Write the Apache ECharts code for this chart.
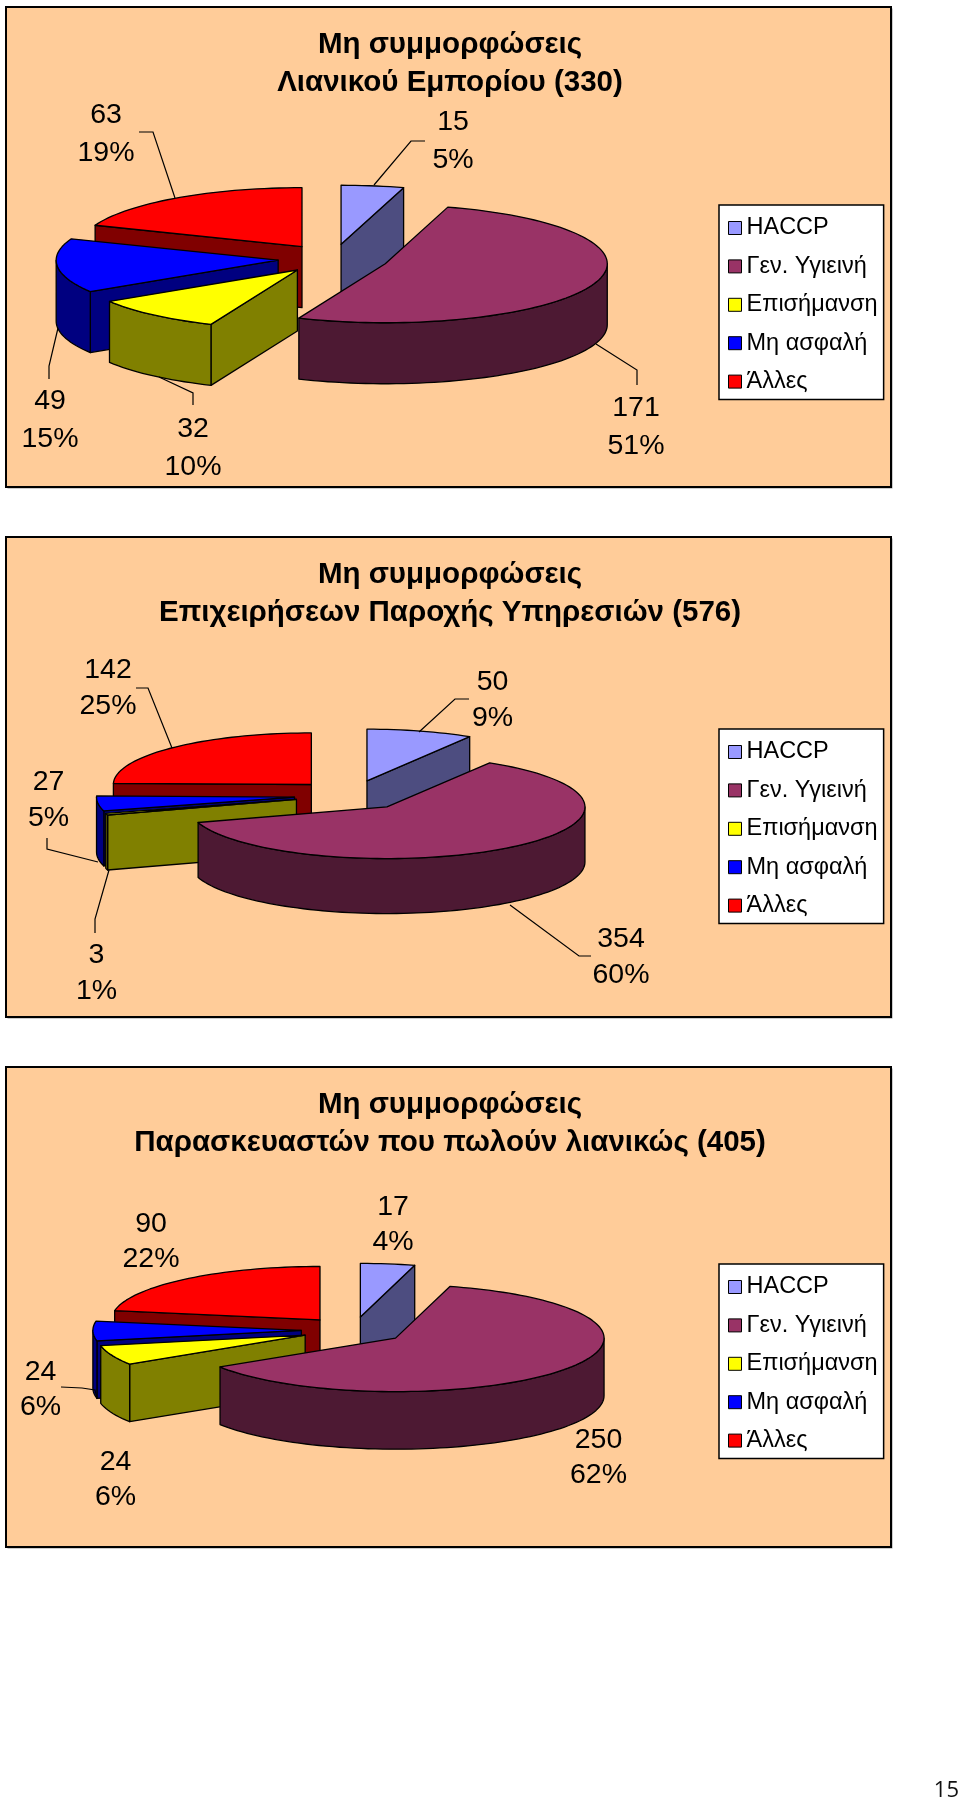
<!DOCTYPE html>
<html><head><meta charset="utf-8">
<style>html,body{margin:0;padding:0;background:#fff}#c{width:960px;height:1801px}</style>
<script src="https://cdn.jsdelivr.net/npm/echarts@6/dist/echarts.min.js"></script>
</head><body><div id="c"></div>
<script>
const categories = ['HACCP','Γεν. Υγιεινή','Επισήμανση','Μη ασφαλή','Άλλες'];
const retailValues = [15,171,32,49,63];
const retailPercents = [5,51,10,15,19];
const servicesValues = [50,354,3,27,142];
const servicesPercents = [9,60,1,5,25];
const makersValues = [17,250,24,24,90];
const makersPercents = [4,62,6,6,22];
const retailTitle = 'Μη συμμορφώσεις\nΛιανικού Εμπορίου (330)';
const servicesTitle = 'Μη συμμορφώσεις\nΕπιχειρήσεων Παροχής Υπηρεσιών (576)';
const makersTitle = 'Μη συμμορφώσεις\nΠαρασκευαστών που πωλούν λιανικώς (405)';
const pageNumber = '15';

const topColors = ['#9999FF','#993366','#FFFF00','#0000FF','#FF0000'];
const sideColors = ['#4D4D80','#4D1933','#808000','#000080','#800000'];
const stackZ = [2,6,5,4,3];
const FONT = '"Liberation Sans", Arial, sans-serif';

const panels = [
 {values:retailValues, percents:retailPercents, title:retailTitle, top:7, cx:333.2, cy:258.8, rx:222, ry:59, depth:61, explode:.249, labelLine:38,
  labels:[[453,141],[636,427],[193,448],[50,420],[106,134]],
  leaders:[[[425,141],[411,141],[374,185]],[[637,385],[637,370],[596,344]],[[193,405],[193,393],[159,377]],[[49,379],[49,366],[58,328]],[[139,132],[153,132],[175,198]]],
  legendTop:205},
 {values:servicesValues, percents:servicesPercents, title:servicesTitle, top:537, cx:351.5, cy:795.2, rx:198, ry:51.6, depth:55, explode:.29, labelLine:35.5,
  labels:[[492.5,700],[621,957],[96.5,973],[48.5,800],[108,688]],
  leaders:[[[469,699],[455,699],[419,732]],[[591,956],[579,956],[510,905]],[[95,933],[95,919],[109,870]],[[47,838],[47,849],[98,862]],[[136,688],[148,688],[172,748]]],
  legendTop:729},
 {values:makersValues, percents:makersPercents, title:makersTitle, top:1067, cx:353.5, cy:1330.2, rx:208.5, ry:53.5, depth:57.6, explode:.25, labelLine:35.5,
  labels:[[393,1224.5],[598.5,1457.5],[115.5,1479.5],[40.5,1389.5],[151,1241.5]],
  leaders:[[],[],[],[[61,1387],[82,1388],[95,1390],[97,1398]],[]],
  legendTop:1264}
];
const PANEL_X = 6, PANEL_W = 885, PANEL_H = 480;

function sliceItem(p, i, value){
  const total = p.values.reduce((a,b)=>a+b,0);
  const before = p.values.slice(0,i).reduce((a,b)=>a+b,0);
  const a0 = before/total*2*Math.PI, a1 = (before+value)/total*2*Math.PI, mid=(a0+a1)/2;
  const ax = p.cx + p.explode*p.rx*Math.sin(mid), ay = p.cy - p.explode*p.ry*Math.cos(mid);
  const pt = a => [ax + p.rx*Math.sin(a), ay - p.ry*Math.cos(a)];
  const stroke = {stroke:'#000', lineWidth:1.3, lineJoin:'round'};
  const children = [];
  const wall = (a) => { const t = pt(a);
    children.push({type:'polygon', shape:{points:[[ax,ay],t,[t[0],t[1]+p.depth],[ax,ay+p.depth]]}, style:{fill:sideColors[i],...stroke}}); };
  if (-Math.cos(a0-Math.PI/2) > 0) wall(a0);
  if (-Math.cos(a1+Math.PI/2) > 0) wall(a1);
  const w0 = Math.max(a0, Math.PI/2), w1 = Math.min(a1, 3*Math.PI/2);
  if (w1 > w0){
    const upper=[], lower=[];
    const n = Math.max(2, Math.ceil((w1-w0)/(Math.PI/90)));
    for(let k=0;k<=n;k++){ const q = pt(w0+(w1-w0)*k/n); upper.push(q); lower.unshift([q[0],q[1]+p.depth]); }
    children.push({type:'polygon', shape:{points:upper.concat(lower)}, style:{fill:sideColors[i],...stroke}});
  }
  const pts=[[ax,ay]];
  const n = Math.max(2, Math.ceil((a1-a0)/(Math.PI/90)));
  for(let k=0;k<=n;k++) pts.push(pt(a0+(a1-a0)*k/n));
  children.push({type:'polygon', shape:{points:pts}, style:{fill:topColors[i],...stroke}});
  if (p.leaders[i].length) children.push({type:'polyline', shape:{points:p.leaders[i]}, style:{fill:null, stroke:'#000', lineWidth:1.2}});
  children.push({type:'text', style:{text:value+'\n'+p.percents[i]+'%', x:p.labels[i][0], y:p.labels[i][1], align:'center', verticalAlign:'middle', fontSize:28.5, lineHeight:p.labelLine, fontFamily:FONT, fill:'#000'}});
  return {type:'group', children};
}

const series = [], legends = [], titles = [], graphics = [];
panels.forEach(p=>{
  graphics.push({type:'rect', z:-10, shape:{x:PANEL_X+1.5,y:p.top+1.5,width:PANEL_W,height:PANEL_H}, style:{fill:'#9a9a9a'}});
  graphics.push({type:'rect', z:-9, shape:{x:PANEL_X,y:p.top,width:PANEL_W,height:PANEL_H}, style:{fill:'#FFCC99',stroke:'#000',lineWidth:2}});
  titles.push({text:p.title, left:450, top:p.top+19, textAlign:'center', padding:0, textStyle:{fontFamily:FONT,fontWeight:'bold',fontSize:29.5,lineHeight:38,color:'#000'}});
  legends.push({orient:'vertical', left:719, top:p.legendTop, padding:[10,6,5,9], itemWidth:13, itemHeight:13, itemGap:12.4, selectedMode:false,
    backgroundColor:'#fff', borderColor:'#000', borderWidth:1.5, borderRadius:0,
    textStyle:{fontFamily:FONT,fontSize:23.5,color:'#000',lineHeight:26},
    data:categories.map((name,i)=>({name,icon:'rect',itemStyle:{color:topColors[i],borderColor:'#000',borderWidth:1}}))});
  categories.forEach((name,i)=>{
    series.push({type:'custom', name, coordinateSystem:'none', z:stackZ[i], silent:true, animation:false,
      itemStyle:{color:topColors[i]}, data:[[p.values[i]]],
      renderItem:(params,api)=>sliceItem(p,i,api.value(0))});
  });
});
titles.push({text:pageNumber, right:1, top:1780, padding:0, textStyle:{fontFamily:'"Open Sans", sans-serif',fontWeight:'normal',fontSize:22,color:'#111'}});

const chart = echarts.init(document.getElementById('c'),null,{renderer:'canvas',width:960,height:1801});
chart.setOption({animation:false, backgroundColor:'#fff', title:titles, legend:legends, graphic:{elements:graphics}, tooltip:{show:false}, series});
</script></body></html>
